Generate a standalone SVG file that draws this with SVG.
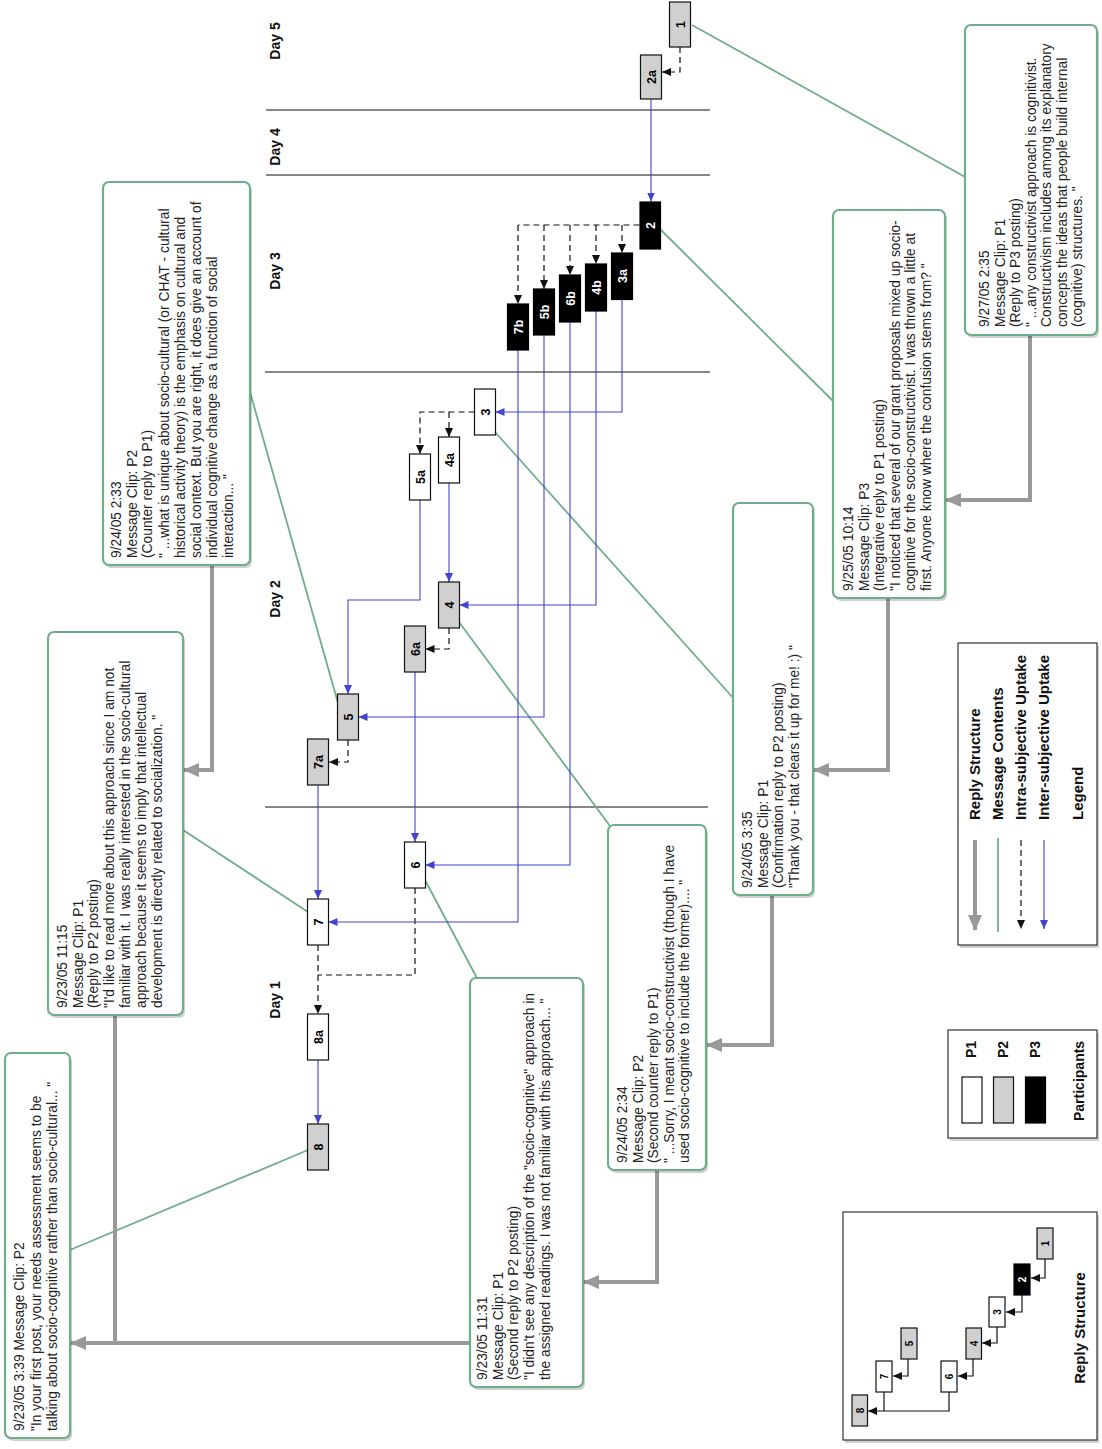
<svg xmlns="http://www.w3.org/2000/svg" width="1102" height="1449" viewBox="0 0 1102 1449">
<style>
text{font-family:"Liberation Sans",Arial,sans-serif;}
.ct{font-size:13.8px;fill:#222;}
.nl{font-size:12.5px;font-weight:bold;text-anchor:middle;}
.ml{font-size:10px;font-weight:bold;text-anchor:middle;}
.day{font-size:14px;font-weight:bold;text-anchor:middle;fill:#111;}
.lg{font-size:15px;font-weight:bold;fill:#111;}
.box{fill:#fff;stroke:#6fae88;stroke-width:2.2;}
.shadow{fill:#000;opacity:0.18;}
.p1{fill:#fff;stroke:#111;stroke-width:1.2;}
.p2{fill:#d0d0d0;stroke:#111;stroke-width:1.2;}
.p3{fill:#000;stroke:#000;stroke-width:1.2;}
.dash{fill:none;stroke:#111;stroke-width:1.2;stroke-dasharray:6,4;}
.blue{fill:none;stroke:#4343d0;stroke-width:1.1;}
.green{fill:none;stroke:#6fae88;stroke-width:1.8;}
.gray{fill:none;stroke:#999;stroke-width:4;}
.mini{fill:none;stroke:#111;stroke-width:1.2;}
.day-line{stroke:#111;stroke-width:1.2;}
.lbox{fill:#fff;stroke:#333;stroke-width:1.2;}
</style>
<defs>
<marker id="ab" markerUnits="userSpaceOnUse" markerWidth="9" markerHeight="8" refX="9" refY="4" orient="auto"><path d="M0,0 L9,4 L0,8 z" fill="#111"/></marker>
<marker id="au" markerUnits="userSpaceOnUse" markerWidth="9" markerHeight="8" refX="9" refY="4" orient="auto"><path d="M0,0 L9,4 L0,8 z" fill="#4343d0"/></marker>
<marker id="ag" markerUnits="userSpaceOnUse" markerWidth="16" markerHeight="14" refX="15" refY="7" orient="auto"><path d="M0,0 L16,7 L0,14 z" fill="#999"/></marker>
</defs>
<rect width="1102" height="1449" fill="#fff"/>

<!-- Day separators and labels -->
<g id="days">
<line class="day-line" x1="266" y1="110" x2="710" y2="110"/>
<line class="day-line" x1="266" y1="175" x2="710" y2="175"/>
<line class="day-line" x1="265" y1="372" x2="710" y2="372"/>
<line class="day-line" x1="265" y1="807" x2="708" y2="807"/>
<text class="day" transform="translate(280,41) rotate(-90)">Day 5</text>
<text class="day" transform="translate(280,147) rotate(-90)">Day 4</text>
<text class="day" transform="translate(280,271) rotate(-90)">Day 3</text>
<text class="day" transform="translate(280,599) rotate(-90)">Day 2</text>
<text class="day" transform="translate(280,1000) rotate(-90)">Day 1</text>
</g>

<!-- Connectors -->
<g id="connectors">
<!-- message contents (green) -->
<path class="green" d="M692,25 L967,178"/>
<path class="green" d="M661,230 L834,402"/>
<path class="green" d="M495,432 L735,700"/>
<path class="green" d="M459,622 L610,826"/>
<path class="green" d="M425,880 L478,980"/>
<path class="green" d="M308,1150 L70,1250"/>
<path class="green" d="M308,912 L183,830"/>
<path class="green" d="M338,703 L250,392"/>
<!-- reply structure (gray) -->
<path class="gray" d="M1030,335 V500 H946" marker-end="url(#ag)"/>
<path class="gray" d="M888,598 V770 H814" marker-end="url(#ag)"/>
<path class="gray" d="M772,895 V1045 H707" marker-end="url(#ag)"/>
<path class="gray" d="M657,1170 V1282 H584" marker-end="url(#ag)"/>
<path class="gray" d="M470,1343 H71" marker-end="url(#ag)"/>
<path class="gray" d="M115,1016 V1343"/>
<path class="gray" d="M212,565 V770 H184" marker-end="url(#ag)"/>
<!-- intra-subjective (dashed) -->
<path class="dash" d="M680,47 V72 H662" marker-end="url(#ab)"/>
<path class="dash" d="M639.5,225 H518"/>
<path class="dash" d="M622,225 V253" marker-end="url(#ab)"/>
<path class="dash" d="M596,225 V264" marker-end="url(#ab)"/>
<path class="dash" d="M570,225 V275" marker-end="url(#ab)"/>
<path class="dash" d="M544,225 V289" marker-end="url(#ab)"/>
<path class="dash" d="M518,225 V304" marker-end="url(#ab)"/>
<path class="dash" d="M474.5,412 H420 V454" marker-end="url(#ab)"/>
<path class="dash" d="M449,412 V437" marker-end="url(#ab)"/>
<path class="dash" d="M449,628 V649 H425.5" marker-end="url(#ab)"/>
<path class="dash" d="M348,740 V762 H329" marker-end="url(#ab)"/>
<path class="dash" d="M318,945 V1014" marker-end="url(#ab)"/>
<path class="dash" d="M415,888 V975 H318"/>
<!-- inter-subjective (blue) -->
<path class="blue" d="M651,99 V201.5" marker-end="url(#au)"/>
<path class="blue" d="M622,299.5 V412 H495.5" marker-end="url(#au)"/>
<path class="blue" d="M449,483 V582" marker-end="url(#au)"/>
<path class="blue" d="M596,311 V605 H459.5" marker-end="url(#au)"/>
<path class="blue" d="M420,500 V600 H348 V694" marker-end="url(#au)"/>
<path class="blue" d="M544,335 V717 H358.5" marker-end="url(#au)"/>
<path class="blue" d="M415,672 V842" marker-end="url(#au)"/>
<path class="blue" d="M570,322 V865 H425.5" marker-end="url(#au)"/>
<path class="blue" d="M318,785 V899" marker-end="url(#au)"/>
<path class="blue" d="M518,350 V922 H328.5" marker-end="url(#au)"/>
<path class="blue" d="M318,1060 V1124" marker-end="url(#au)"/>
</g>

<!-- Message nodes -->
<g id="n1"><rect class="p2" x="669.5" y="2" width="21" height="45"/><text class="nl" transform="translate(684.5,24.5) rotate(-90)">1</text></g>
<g id="n2a"><rect class="p2" x="640.5" y="55" width="21" height="44"/><text class="nl" transform="translate(655.5,77) rotate(-90)">2a</text></g>
<g id="n2"><rect class="p3" x="640" y="202" width="20.5" height="47"/><text class="nl" fill="#fff" transform="translate(655,225.5) rotate(-90)">2</text></g>
<g id="n3a"><rect class="p3" x="611.5" y="253" width="21" height="46.5"/><text class="nl" fill="#fff" transform="translate(626.5,276) rotate(-90)">3a</text></g>
<g id="n4b"><rect class="p3" x="585.5" y="264" width="21" height="47"/><text class="nl" fill="#fff" transform="translate(600.5,287.5) rotate(-90)">4b</text></g>
<g id="n6b"><rect class="p3" x="559.5" y="275" width="21" height="47"/><text class="nl" fill="#fff" transform="translate(574.5,298.5) rotate(-90)">6b</text></g>
<g id="n5b"><rect class="p3" x="533.5" y="289" width="21" height="46"/><text class="nl" fill="#fff" transform="translate(548.5,312) rotate(-90)">5b</text></g>
<g id="n7b"><rect class="p3" x="507.5" y="304" width="21" height="46"/><text class="nl" fill="#fff" transform="translate(522.5,327) rotate(-90)">7b</text></g>
<g id="n3"><rect class="p1" x="474.5" y="389" width="21" height="46"/><text class="nl" transform="translate(489.5,412) rotate(-90)">3</text></g>
<g id="n4a"><rect class="p1" x="438.5" y="437" width="21" height="46"/><text class="nl" transform="translate(453.5,460) rotate(-90)">4a</text></g>
<g id="n5a"><rect class="p1" x="409.5" y="454" width="21" height="46"/><text class="nl" transform="translate(424.5,477) rotate(-90)">5a</text></g>
<g id="n4"><rect class="p2" x="438.5" y="582" width="21" height="46"/><text class="nl" transform="translate(453.5,605) rotate(-90)">4</text></g>
<g id="n6a"><rect class="p2" x="404.5" y="626" width="21" height="46"/><text class="nl" transform="translate(419.5,649) rotate(-90)">6a</text></g>
<g id="n5"><rect class="p2" x="337.5" y="694" width="21" height="46"/><text class="nl" transform="translate(352.5,717) rotate(-90)">5</text></g>
<g id="n7a"><rect class="p2" x="307.5" y="739" width="21" height="46"/><text class="nl" transform="translate(322.5,762) rotate(-90)">7a</text></g>
<g id="n6"><rect class="p1" x="404.5" y="842" width="21" height="46"/><text class="nl" transform="translate(419.5,865) rotate(-90)">6</text></g>
<g id="n7"><rect class="p1" x="307.5" y="899" width="21" height="46"/><text class="nl" transform="translate(322.5,922) rotate(-90)">7</text></g>
<g id="n8a"><rect class="p1" x="307.5" y="1014" width="21" height="46"/><text class="nl" transform="translate(322.5,1037) rotate(-90)">8a</text></g>
<g id="n8"><rect class="p2" x="307.5" y="1124" width="21" height="46"/><text class="nl" transform="translate(322.5,1147) rotate(-90)">8</text></g>

<!-- Message content boxes -->
<g id="boxA">
<rect class="shadow" x="967" y="28" width="132" height="310" rx="6"/>
<rect class="box" x="965" y="25" width="132" height="310" rx="6"/>
<text class="ct" transform="translate(965,335) rotate(-90)">
<tspan x="8" y="24">9/27/05 2:35</tspan>
<tspan x="8" y="39.5">Message Clip: P1</tspan>
<tspan x="8" y="55">(Reply to P3 posting)</tspan>
<tspan x="8" y="70.5">" ...any constructivist approach is cognitivist.</tspan>
<tspan x="8" y="86">Constructivism includes among its explanatory</tspan>
<tspan x="8" y="101.5">concepts the ideas that people build internal</tspan>
<tspan x="8" y="117">(cognitive) structures. "</tspan>
</text>
</g>
<g id="boxB">
<rect class="shadow" x="835" y="213" width="112" height="388" rx="6"/>
<rect class="box" x="833" y="210" width="112" height="388" rx="6"/>
<text class="ct" transform="translate(833,598) rotate(-90)">
<tspan x="7" y="20">9/25/05 10:14</tspan>
<tspan x="7" y="35.5">Message Clip: P3</tspan>
<tspan x="7" y="51">(Integrative reply to P1 posting)</tspan>
<tspan x="7" y="66.5">"I noticed that several of our grant proposals mixed up socio-</tspan>
<tspan x="7" y="82">cognitive for the socio-constructivist. I was thrown a little at</tspan>
<tspan x="7" y="97.5">first. Anyone know where the confusion stems from? "</tspan>
</text>
</g>
<g id="boxC">
<rect class="shadow" x="735" y="506" width="80" height="392" rx="6"/>
<rect class="box" x="733" y="503" width="80" height="392" rx="6"/>
<text class="ct" transform="translate(733,895) rotate(-90)">
<tspan x="7" y="19">9/24/05 3:35</tspan>
<tspan x="7" y="34.5">Message Clip: P1</tspan>
<tspan x="7" y="50">(Confirmation reply to P2 posting)</tspan>
<tspan x="7" y="66">"Thank you - that clears it up for me! :) "</tspan>
</text>
</g>
<g id="boxD">
<rect class="shadow" x="610" y="828" width="98" height="345" rx="6"/>
<rect class="box" x="608" y="825" width="98" height="345" rx="6"/>
<text class="ct" transform="translate(608,1170) rotate(-90)">
<tspan x="7" y="19">9/24/05 2:34</tspan>
<tspan x="7" y="34.5">Message Clip: P2</tspan>
<tspan x="7" y="50">(Second counter reply  to P1)</tspan>
<tspan x="7" y="65.5">" ...Sorry, I meant socio-constructivist (though I have</tspan>
<tspan x="7" y="81">used socio-cognitive to include the former).... "</tspan>
</text>
</g>
<g id="boxE">
<rect class="shadow" x="472" y="981" width="113" height="409" rx="6"/>
<rect class="box" x="470" y="978" width="113" height="409" rx="6"/>
<text class="ct" transform="translate(470,1387) rotate(-90)">
<tspan x="7" y="17">9/23/05 11:31</tspan>
<tspan x="7" y="32.5">Message Clip: P1</tspan>
<tspan x="7" y="48">(Second reply  to P2 posting)</tspan>
<tspan x="7" y="64">"I didn't see any description of the "socio-cognitive" approach in</tspan>
<tspan x="7" y="80">the assigned readings. I was not familiar with this approach... "</tspan>
</text>
</g>
<g id="boxF">
<rect class="shadow" x="7" y="1056" width="65" height="385" rx="6"/>
<rect class="box" x="5" y="1053" width="65" height="385" rx="6"/>
<text class="ct" transform="translate(5,1438) rotate(-90)">
<tspan x="7" y="19">9/23/05 3:39 Message Clip: P2</tspan>
<tspan x="7" y="36">"In your first post, your needs assessment seems to be</tspan>
<tspan x="7" y="52">talking about socio-cognitive rather than socio-cultural... "</tspan>
</text>
</g>
<g id="boxG">
<rect class="shadow" x="50" y="635" width="135" height="383" rx="6"/>
<rect class="box" x="48" y="632" width="135" height="383" rx="6"/>
<text class="ct" transform="translate(48,1015) rotate(-90)">
<tspan x="7" y="19">9/23/05 11:15</tspan>
<tspan x="7" y="34.5">Message Clip: P1</tspan>
<tspan x="7" y="50">(Reply to P2 posting)</tspan>
<tspan x="7" y="66">"I'd like to read more about this approach since I am not</tspan>
<tspan x="7" y="82">familiar with it. I was really interested in the socio-cultural</tspan>
<tspan x="7" y="98">approach because it seems to imply that intellectual</tspan>
<tspan x="7" y="113.5">development is directly related to socialization. "</tspan>
</text>
</g>
<g id="boxH">
<rect class="shadow" x="105" y="185" width="147" height="383" rx="6"/>
<rect class="box" x="103" y="182" width="147" height="383" rx="6"/>
<text class="ct" transform="translate(103,565) rotate(-90)">
<tspan x="7" y="18">9/24/05 2:33</tspan>
<tspan x="7" y="33.5">Message Clip: P2</tspan>
<tspan x="7" y="49">(Counter reply  to P1)</tspan>
<tspan x="7" y="66">" ...what is unique about socio-cultural (or CHAT - cultural</tspan>
<tspan x="7" y="82">historical activity theory) is the emphasis on cultural and</tspan>
<tspan x="7" y="98">social context. But you are right, it does give an account of</tspan>
<tspan x="7" y="113.5">individual cognitive change as a function of social</tspan>
<tspan x="7" y="129.5">interaction... "</tspan>
</text>
</g>

<!-- Legend -->
<g id="legend">
<rect class="shadow" x="960" y="646" width="139" height="302"/>
<rect class="lbox" x="958" y="643" width="139" height="302"/>
<path class="gray" d="M975,840 V930" marker-end="url(#ag)"/>
<line x1="998" y1="838" x2="998" y2="932" stroke="#6fae88" stroke-width="1.8"/>
<path class="dash" d="M1021,840 V929" marker-end="url(#ab)"/>
<path class="blue" d="M1044,840 V929" marker-end="url(#au)"/>
<text class="lg" transform="translate(980,820) rotate(-90)">Reply Structure</text>
<text class="lg" transform="translate(1003,820) rotate(-90)">Message Contents</text>
<text class="lg" transform="translate(1026,820) rotate(-90)">Intra-subjective Uptake</text>
<text class="lg" transform="translate(1049,820) rotate(-90)">Inter-subjective Uptake</text>
<text class="lg" transform="translate(1083,820) rotate(-90)">Legend</text>
</g>

<g id="participants">
<rect class="shadow" x="950" y="1033" width="149" height="108"/>
<rect class="lbox" x="948" y="1030" width="149" height="108"/>
<rect class="p1" x="962" y="1077" width="20" height="46"/>
<rect class="p2" x="993.5" y="1077" width="20" height="46"/>
<rect class="p3" x="1025.5" y="1077" width="20" height="46"/>
<text class="lg" style="font-size:14px" transform="translate(976,1058) rotate(-90)">P1</text>
<text class="lg" style="font-size:14px" transform="translate(1008,1058) rotate(-90)">P2</text>
<text class="lg" style="font-size:14px" transform="translate(1040,1058) rotate(-90)">P3</text>
<text class="lg" style="font-size:14px" transform="translate(1084,1121) rotate(-90)">Participants</text>
</g>

<g id="reply-structure">
<rect class="shadow" x="845" y="1215" width="254" height="228"/>
<rect class="lbox" x="843" y="1212" width="254" height="228"/>
<path class="mini" d="M1045,1259 V1278 H1031" marker-end="url(#ab)"/>
<path class="mini" d="M1022,1295 V1312 H1006" marker-end="url(#ab)"/>
<path class="mini" d="M997,1327 V1343 H982" marker-end="url(#ab)"/>
<path class="mini" d="M973,1359 V1376 H958" marker-end="url(#ab)"/>
<path class="mini" d="M908,1359 V1376 H893" marker-end="url(#ab)"/>
<path class="mini" d="M949,1392 V1411 H868" marker-end="url(#ab)"/>
<path class="mini" d="M884,1392 V1411"/>
<rect class="p2" x="1037" y="1228" width="16" height="31"/><text class="ml" transform="translate(1049,1243.5) rotate(-90)">1</text>
<rect class="p3" x="1014" y="1264" width="16" height="31"/><text class="ml" fill="#fff" transform="translate(1026,1279.5) rotate(-90)">2</text>
<rect class="p1" x="989" y="1297" width="16" height="30"/><text class="ml" transform="translate(1001,1312) rotate(-90)">3</text>
<rect class="p2" x="966" y="1328" width="15.5" height="31"/><text class="ml" transform="translate(977.5,1343.5) rotate(-90)">4</text>
<rect class="p2" x="901" y="1328" width="16" height="31"/><text class="ml" transform="translate(913,1343.5) rotate(-90)">5</text>
<rect class="p1" x="941" y="1361" width="16" height="31"/><text class="ml" transform="translate(953,1376.5) rotate(-90)">6</text>
<rect class="p1" x="876" y="1361" width="16" height="31"/><text class="ml" transform="translate(888,1376.5) rotate(-90)">7</text>
<rect class="p2" x="852" y="1395" width="15.5" height="31"/><text class="ml" transform="translate(863.5,1410.5) rotate(-90)">8</text>
<text class="lg" style="font-size:15px" text-anchor="middle" transform="translate(1085,1328) rotate(-90)">Reply Structure</text>
</g>
</svg>
